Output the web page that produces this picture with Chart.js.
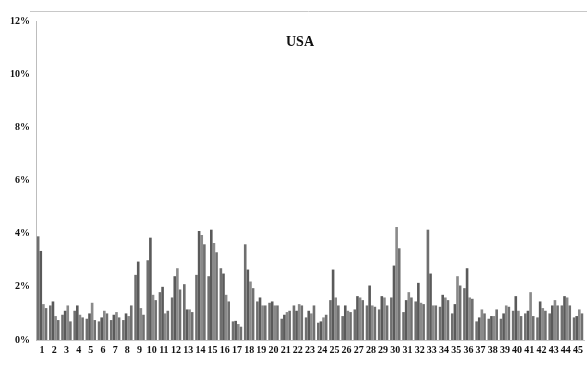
<!DOCTYPE html>
<html>
<head>
<meta charset="utf-8">
<script src="https://cdn.jsdelivr.net/npm/chart.js@4"></script>
<style>
html,body{margin:0;padding:0;background:#fff;overflow:hidden;}
#wrap{width:587px;height:369px;position:relative;}
</style>
</head>
<body>
<div id="wrap"><canvas id="c" width="587" height="369"></canvas></div>
<script>
const categories = Array.from({length:45}, (_, i) => String(i + 1));
const yTicks = [0, 2, 4, 6, 8, 10, 12];
const seriesA = [3.9,1.3,0.95,1.1,0.8,0.7,0.75,0.75,2.45,3.0,1.8,1.6,2.1,2.45,2.4,2.7,0.7,3.6,1.45,1.4,0.8,1.3,0.85,0.65,1.5,0.9,1.15,1.3,1.15,1.6,1.05,1.45,4.15,1.25,1.0,1.95,0.7,0.8,0.8,1.1,1.0,0.85,1.0,1.3,0.85];
const seriesB = [3.35,1.45,1.1,1.3,1.0,0.85,0.95,1.0,2.95,3.85,2.0,2.4,1.15,4.1,4.15,2.5,0.72,2.65,1.6,1.45,0.95,1.1,1.1,0.7,2.65,1.3,1.65,2.05,1.65,2.8,1.5,2.15,2.5,1.7,1.35,2.7,0.85,0.9,1.0,1.65,1.1,1.45,1.3,1.65,0.9];
const seriesC = [1.35,0.9,1.3,0.95,1.4,1.1,1.05,0.9,1.2,1.7,1.0,2.7,1.15,3.95,3.65,1.7,0.6,2.2,1.3,1.3,1.05,1.35,1.0,0.85,1.6,1.1,1.6,1.3,1.6,4.25,1.8,1.4,1.3,1.6,2.4,1.6,1.15,0.9,1.3,1.1,1.8,1.2,1.5,1.6,1.15];
const seriesD = [1.2,0.75,0.7,0.85,0.75,1.0,0.85,1.3,0.95,1.5,1.1,1.9,1.05,3.6,3.3,1.45,0.5,1.95,1.3,1.3,1.1,1.3,1.3,0.95,1.3,1.05,1.5,1.25,1.3,3.45,1.6,1.35,1.3,1.5,2.05,1.55,1.0,1.15,1.25,0.9,0.9,1.1,1.3,1.3,1.0];

const serif = '"Liberation Serif", "Times New Roman", serif';

const framePlugin = {
  id: 'frame',
  afterDraw(chart) {
    const ctx = chart.ctx;
    ctx.save();
    ctx.strokeStyle = '#c8c8c8';
    ctx.lineWidth = 1;
    ctx.beginPath();
    ctx.moveTo(30, 11.5); ctx.lineTo(587, 11.5);
    ctx.stroke();
    ctx.fillStyle = '#111';
    ctx.font = 'bold 14px ' + serif;
    ctx.textAlign = 'center';
    ctx.textBaseline = 'middle';
    ctx.fillText('USA', 300, 42);
    ctx.restore();
  }
};

new Chart(document.getElementById('c'), {
  type: 'bar',
  data: {
    labels: categories,
    datasets: [
      { data: seriesA, backgroundColor: '#6f6f6f' },
      { data: seriesB, backgroundColor: '#5a5a5a' },
      { data: seriesC, backgroundColor: '#8a8a8a' },
      { data: seriesD, backgroundColor: '#707070' }
    ]
  },
  options: {
    responsive: false,
    animation: false,
    layout: { padding: { left: 4, right: 0, top: 21, bottom: 4 } },
    datasets: { bar: { categoryPercentage: 0.86, barPercentage: 1.0, borderWidth: 0 } },
    plugins: { legend: { display: false }, tooltip: { enabled: false } },
    scales: {
      x: {
        grid: { display: false, drawTicks: false },
        border: { display: true, color: '#c8c8c8' },
        ticks: { autoSkip: false, maxRotation: 0, minRotation: 0, padding: 4, color: '#111', font: { family: serif, weight: 'bold', size: 10 } },
        afterFit(s) { s.height = 25; }
      },
      y: {
        min: 0, max: 12,
        grid: { display: false, drawTicks: false },
        border: { display: true, color: '#bdbdbd' },
        afterBuildTicks(s) { s.ticks = yTicks.map(v => ({ value: v })); },
        ticks: { padding: 6, color: '#111', callback: v => v + '%', font: { family: serif, weight: 'bold', size: 10 } },
        afterFit(s) { s.width = 32; }
      }
    }
  },
  plugins: [framePlugin]
});
</script>
</body>
</html>
